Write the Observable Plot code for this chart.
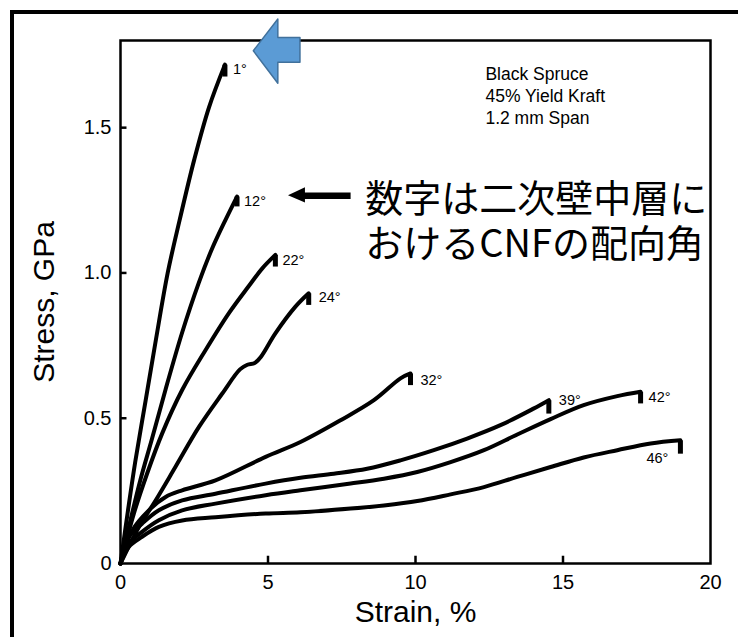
<!DOCTYPE html>
<html><head><meta charset="utf-8">
<script src="https://cdn.jsdelivr.net/npm/d3@7"></script>
<script src="https://cdn.jsdelivr.net/npm/@observablehq/plot@0.6"></script>
<style>
body{margin:0;background:#fff;overflow:hidden}
#wrap{position:relative;width:738px;height:637px;overflow:hidden;background:#fff}
#border{position:absolute;left:10px;top:10px;width:900px;height:900px;border:4px solid #000;box-sizing:border-box;pointer-events:none}
#chart{position:absolute;left:0;top:0}
</style></head><body>
<div id="wrap"><div id="chart"></div><div id="border"></div></div>
<script>
// Curve labels: microfibril (CNF) angle in the S2 layer
const angles = ["1°", "12°", "22°", "24°", "32°", "39°", "42°", "46°"];

// [strain %, stress GPa], up to the peak
const curve1 = [[0,0],[0.25,0.18],[0.5,0.35],[0.85,0.56],[1.2,0.77],[1.6,1.0],[2.0,1.18],[2.5,1.39],[3.0,1.57],[3.54,1.717]];
const curve12 = [[0,0],[0.34,0.15],[0.68,0.29],[1.07,0.43],[1.53,0.6],[2.09,0.795],[2.65,0.965],[3.11,1.085],[3.56,1.183],[3.95,1.263]];
const curve22 = [[0,0],[0.45,0.171],[0.9,0.309],[1.41,0.447],[2.09,0.597],[2.88,0.734],[3.67,0.861],[4.35,0.955],[4.8,1.015],[5.25,1.062]];
const curve24 = [[0,0],[0.62,0.125],[1.19,0.217],[1.86,0.332],[2.66,0.47],[3.45,0.585],[4.05,0.668],[4.3,0.684],[4.55,0.69],[4.75,0.71],[5.25,0.792],[5.93,0.884],[6.38,0.93]];
const curve32 = [[0,0],[0.4,0.114],[0.96,0.183],[1.53,0.229],[2.09,0.252],[3.22,0.286],[4.92,0.367],[6.1,0.418],[7.46,0.493],[8.59,0.562],[9.49,0.637],[9.83,0.654]];
const curve39 = [[0,0],[0.28,0.091],[0.73,0.137],[1.3,0.183],[2.09,0.217],[3.22,0.24],[4.92,0.275],[6.1,0.295],[7.23,0.309],[8.36,0.326],[9.49,0.355],[10.62,0.39],[11.75,0.43],[12.88,0.476],[14.0,0.533],[14.52,0.562]];
const curve42 = [[0,0],[0.28,0.068],[0.73,0.109],[1.3,0.149],[2.09,0.183],[3.22,0.206],[4.92,0.235],[6.1,0.252],[7.8,0.275],[8.93,0.292],[10.06,0.315],[11.19,0.349],[12.32,0.39],[13.45,0.444],[14.58,0.497],[15.7,0.545],[16.84,0.576],[17.63,0.591]];
const curve46 = [[0,0],[0.28,0.057],[0.73,0.092],[1.3,0.126],[2.09,0.148],[3.22,0.159],[4.92,0.172],[6.1,0.176],[7.8,0.189],[8.93,0.2],[10.06,0.215],[11.19,0.238],[12.32,0.263],[13.45,0.298],[14.58,0.332],[15.7,0.365],[16.84,0.39],[17.97,0.413],[18.98,0.424]];

// stress right after fracture (the short vertical drop at each curve's end)
const breakStress = [1.676, 1.229, 1.022, 0.89, 0.614, 0.516, 0.551, 0.378];

// axis ticks
const xTicks = [0, 5, 10, 15, 20];
const yTicks = [0, 0.5, 1.0, 1.5];
const xInnerTicks = [5, 10, 15];
const yInnerTicks = [0.5, 1.0, 1.5];

// annotation texts
const infoText = "Black Spruce\n45% Yield Kraft\n1.2 mm Span";
const noteText = "数字は二次壁中層に\nおけるCNFの配向角";

// label offsets (px) per curve
const labelDx = [8, 7, 7, 10, 10, 10, 8, -12];
const labelDy = [5, 5, 5, 4, 7, 0, 6, 18];

const curves = [curve1, curve12, curve22, curve24, curve32, curve39, curve42, curve46];
const rows = curves.flatMap((c, i) => c.map(([s, t]) => ({angle: angles[i], strain: s, stress: t})));
const peaks = curves.map((c, i) => ({
  angle: angles[i], strain: c[c.length - 1][0], stress: c[c.length - 1][1],
  broken: breakStress[i]
}));

// annotation geometry in data units
const blueArrow = [
  {x: 4.52, y1: 1.763, y2: 1.763},
  {x: 5.35, y1: 1.651, y2: 1.872},
  {x: 5.35, y1: 1.723, y2: 1.809},
  {x: 6.10, y1: 1.723, y2: 1.809}
];
const blackHead = [
  {x: 5.695, y1: 1.266, y2: 1.266},
  {x: 6.27, y1: 1.241, y2: 1.293}
];
const blackShaft = [{x1: 6.1, x2: 7.8, y: 1.266}];

const plot = Plot.plot({
  width: 738, height: 637,
  marginLeft: 120, marginRight: 28, marginTop: 40, marginBottom: 74,
  x: {domain: [0, 20]},
  y: {domain: [0, 1.8]},
  style: {fontFamily: "'Liberation Sans', Arial, sans-serif", background: "transparent", color: "black"},
  marks: [
    Plot.ruleX(xInnerTicks, {x: d => d, y1: 0, y2: 0.025, strokeWidth: 2.5}),
    Plot.ruleY(yInnerTicks, {y: d => d, x1: 0, x2: 0.22, strokeWidth: 2.5}),
    Plot.axisX(xTicks, {tickSize: 0, tickPadding: 11, fontSize: 20, label: null, tickFormat: d3.format("d")}),
    Plot.axisY(yTicks, {tickSize: 0, tickPadding: 9, fontSize: 20, label: null, tickFormat: d => d === 0 ? "0" : d.toFixed(1)}),
    Plot.text(["Strain, %"], {text: d => d, frameAnchor: "bottom", textAnchor: "middle", lineAnchor: "bottom", dy: 58, fontSize: 30}),
    Plot.text(["Stress, GPa"], {text: d => d, frameAnchor: "left", textAnchor: "middle", lineAnchor: "middle", dx: -76, rotate: -90, fontSize: 30}),
    Plot.line(rows, {x: "strain", y: "stress", z: "angle", curve: "catmull-rom", stroke: "black", strokeWidth: 4, strokeLinecap: "round", strokeLinejoin: "round"}),
    Plot.link(peaks, {x1: "strain", x2: "strain", y1: "stress", y2: "broken", stroke: "black", strokeWidth: 5}),
    ...peaks.map((p, i) => Plot.text([p], {x: "strain", y: "stress", text: "angle", dx: labelDx[i], dy: labelDy[i], textAnchor: i === 7 ? "end" : "start", fontSize: 14.5})),
    Plot.text([infoText], {text: d => d, x: 12.37, y: 1.717, textAnchor: "start", lineAnchor: "top", lineHeight: 1.25, fontSize: 17.5}),
    Plot.text([noteText], {text: d => d, x: 8.3, y: 1.322, textAnchor: "start", lineAnchor: "top", lineHeight: 1.2, fontSize: 38, fontFamily: "'Noto Sans CJK JP', sans-serif"}),
    Plot.link(blackShaft, {x1: "x1", x2: "x2", y1: "y", y2: "y", stroke: "black", strokeWidth: 6.5}),
    Plot.areaY(blackHead, {x: "x", y1: "y1", y2: "y2", fill: "black"}),
    Plot.frame({strokeWidth: 2.5}),
    Plot.areaY(blueArrow, {x: "x", y1: "y1", y2: "y2", fill: "#5B9BD5", stroke: "#41719C", strokeWidth: 1.5})
  ]
});
document.getElementById("chart").appendChild(plot);
</script></body></html>
